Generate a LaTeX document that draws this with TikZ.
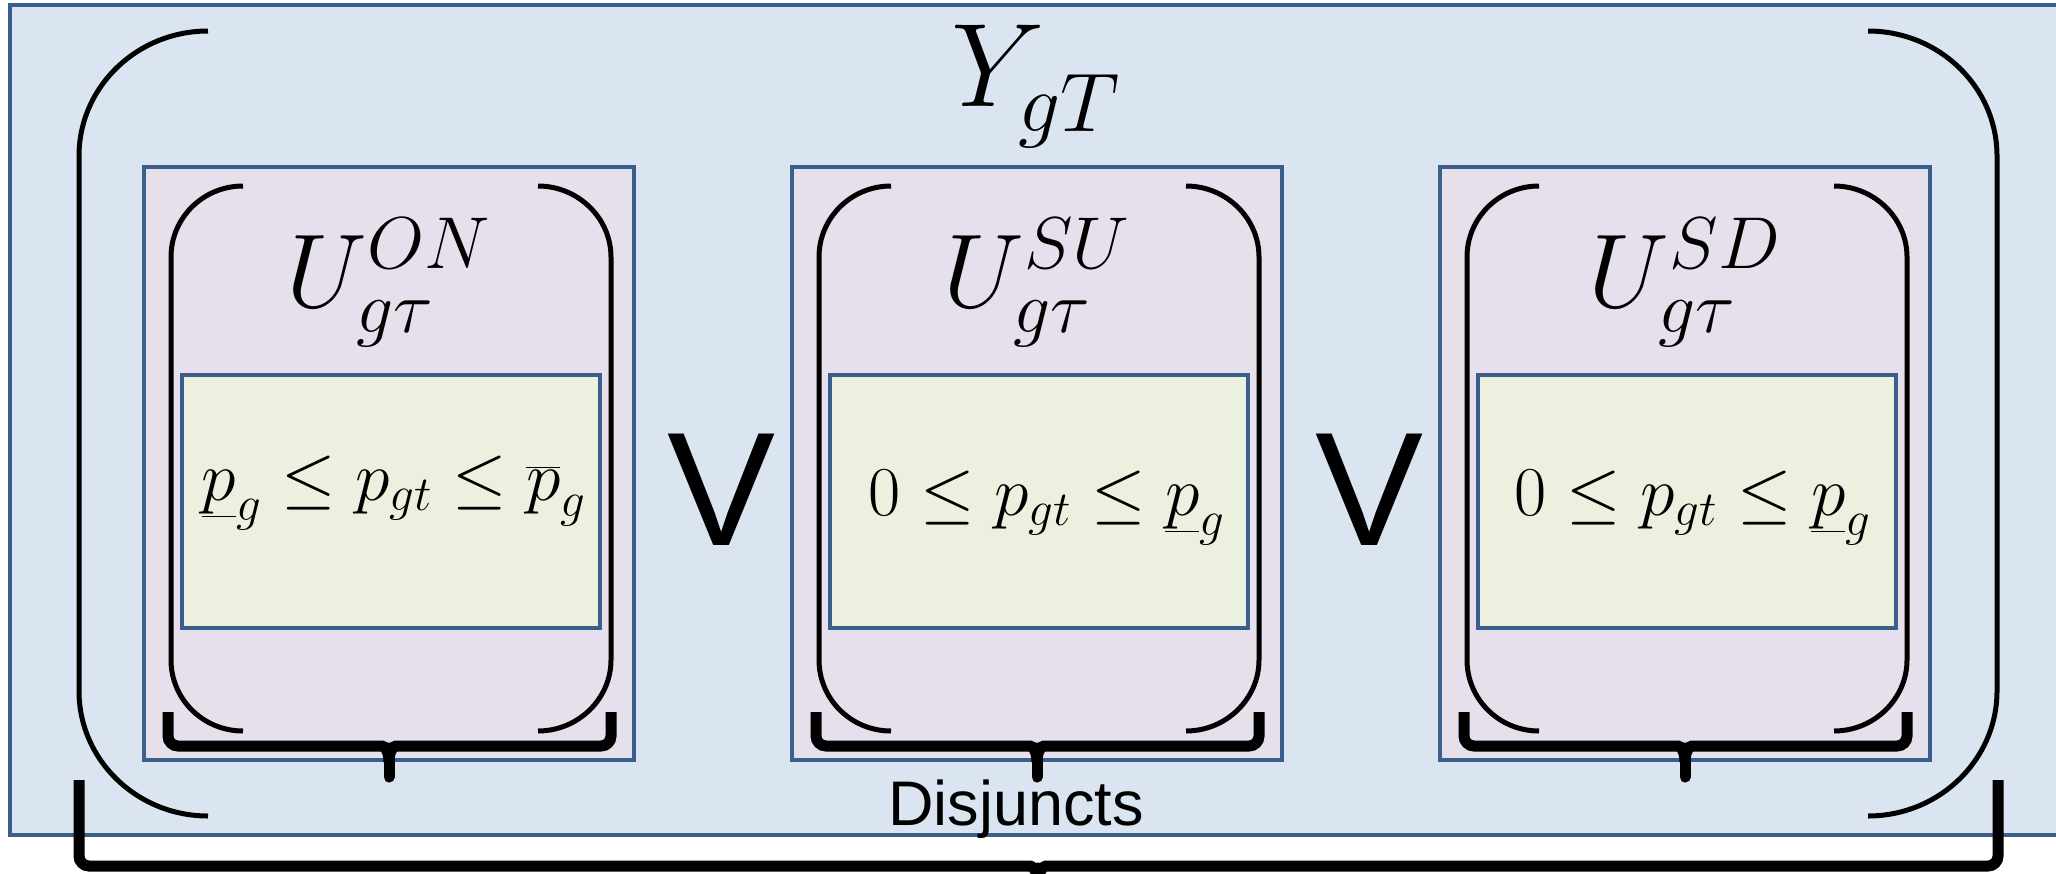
\RequirePackage{fix-cm}
\documentclass[tikz,border=0pt]{standalone}
\usepackage{fontspec}
\newfontfamily\arialfont{Liberation Sans}
\definecolor{bgblue}{HTML}{DBE5F1}
\definecolor{boxpurple}{HTML}{E5E0EC}
\definecolor{boxgreen}{HTML}{EBF1DE}
\definecolor{edgeblue}{HTML}{3A5F8B}
\begin{document}
\begin{tikzpicture}[x=0.5pt,y=-0.5pt,
  outerbox/.style={draw=edgeblue, fill=bgblue, line width=2pt, inner sep=0pt, outer sep=0pt},
  disjbox/.style={draw=edgeblue, fill=boxpurple, line width=2pt, minimum width=245pt, minimum height=296.5pt, inner sep=0pt, outer sep=0pt},
  condbox/.style={draw=edgeblue, fill=boxgreen, line width=2pt, minimum width=209pt, minimum height=126.5pt, inner sep=0pt, outer sep=0pt},
  paren/.style={line width=2.5pt, draw=black},
  bracebar/.style={line width=5.5pt, draw=black, rounded corners=5pt},
  bracetip/.style={line width=5.5pt, draw=black, line cap=round},
  bigmath/.style={anchor=base, inner sep=0pt, font=\fontsize{59.5}{66}\selectfont},
  labmath/.style={anchor=base, inner sep=0pt, font=\fontsize{52.5}{60}\selectfont},
  formmath/.style={anchor=base, inner sep=0pt, font=\fontsize{35}{40}\selectfont},
  orsym/.style={anchor=base, inner sep=0pt, font=\arialfont\fontsize{81}{90}\selectfont},
  captext/.style={anchor=base, inner sep=0pt, font=\arialfont\fontsize{31.5}{36}\selectfont}
]
\useasboundingbox (0,0) rectangle (2056,873);
\fill[white] (0,0) rectangle (2056,873);
\clip (0,0) rectangle (2056,873);

% outer box
\node[outerbox, minimum width=1030pt, minimum height=415pt] (outer) at (1040,420) {};

% big parentheses
\draw[paren] (208,31) .. controls (137,31) and (79,87) .. (79,156) -- (79,691) .. controls (79,760) and (137,816) .. (208,816);
\draw[paren] (1868,31) .. controls (1939,31) and (1997,87) .. (1997,156) -- (1997,691) .. controls (1997,760) and (1939,816) .. (1868,816);

\node[bigmath] (ylab) at (1036,106) {$Y_{\lower4pt\hbox{$\scriptstyle gT$}}$};

% disjunct boxes, inner parens, condition boxes, small braces
\foreach \i in {0,1,2} {
  \pgfmathsetmacro\L{144+648*\i}
  \node[disjbox] (box\i) at (\L+245,463.5) {};
  \draw[paren] (\L+99,186) .. controls (\L+59,186) and (\L+27,218) .. (\L+27,257) -- (\L+27,660) .. controls (\L+27,699) and (\L+59,731) .. (\L+99,731);
  \draw[paren] (\L+394,186) .. controls (\L+434,186) and (\L+467,218) .. (\L+467,257) -- (\L+467,660) .. controls (\L+467,699) and (\L+434,731) .. (\L+394,731);
  \node[condbox] (cond\i) at (\L+247,501.5) {};
  \draw[bracebar] (\L+24,712) -- (\L+24,746) -- (\L+228,746) .. controls (\L+240,746) and (\L+245,750) .. (\L+245,762);
  \draw[bracebar] (\L+467,712) -- (\L+467,746) -- (\L+262,746) .. controls (\L+250,746) and (\L+245,750) .. (\L+245,762);
  \draw[bracetip] (\L+245,748) -- (\L+245,777);
}

% labels
\node[labmath] (lab0) at (389,307) {$U^{ON}_{g\tau}$};
\node[labmath] (lab1) at (1037,307) {$U^{SU}_{g\tau}$};
\node[labmath] (lab2) at (1685,307) {$U^{SD}_{g\tau}$};

% formulas
\node[formmath] (form0) at (394,500) {$\underline{p}_g \le p_{gt} \le \overline{p}_g$};
\node[formmath] (form1) at (1047,515) {$0 \le p_{gt} \le \underline{p}_g$};
\node[formmath] (form2) at (1693,515) {$0 \le p_{gt} \le \underline{p}_g$};

% or symbols
\node[orsym] (or1) at (721.5,545) {V};
\node[orsym] (or2) at (1369.5,545) {V};

\node[captext] (disj) at (1016,825) {Disjuncts};

% big brace
\draw[bracebar] (79,780) -- (79,866) -- (1020,866) .. controls (1032,866) and (1038,870) .. (1038,885);
\draw[bracebar] (1998,780) -- (1998,866) -- (1056,866) .. controls (1044,866) and (1038,870) .. (1038,885);
\draw[bracetip] (1038,868) -- (1038,900);
\end{tikzpicture}
\end{document}
